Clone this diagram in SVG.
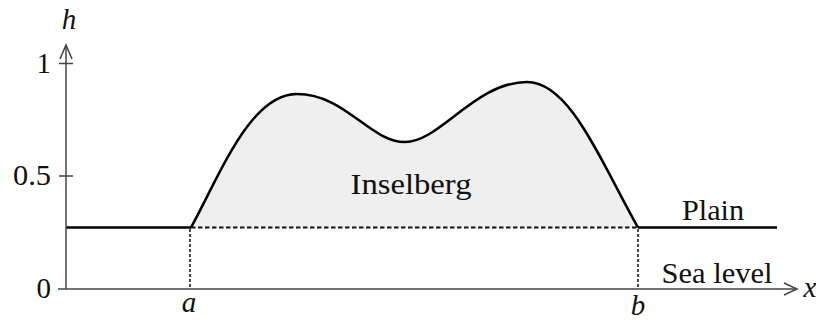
<svg xmlns="http://www.w3.org/2000/svg" width="816" height="320" viewBox="0 0 816 320">
<style>
.t{font-family:"Liberation Serif",serif;fill:#111;font-size:29px}
.i{font-style:italic}
.ax{stroke:#444;stroke-width:1.5;fill:none}
</style>
<rect width="816" height="320" fill="#fff"/>
<g id="hill">
<path d="M191,227.5 C220,175 250,94 297,94 C345,94 370,142 405,142 C440,142 475,82 527,82 C570,82 600,160 638,227.5 Z" fill="#efefef" stroke="none"/>
<path d="M191,227.5 C220,175 250,94 297,94 C345,94 370,142 405,142 C440,142 475,82 527,82 C570,82 600,160 638,227.5" fill="none" stroke="#000" stroke-width="2.5"/>
<text class="t" x="411" y="194" text-anchor="middle" textLength="121" lengthAdjust="spacingAndGlyphs">Inselberg</text>
</g>
<g id="connectors">
<line x1="191" y1="227.5" x2="638" y2="227.5" stroke="#111" stroke-width="2.2" stroke-dasharray="4.5,2.5"/>
<line x1="190" y1="229" x2="190" y2="289" stroke="#111" stroke-width="1.5" stroke-dasharray="3,2"/>
<line x1="638" y1="229" x2="638" y2="289" stroke="#111" stroke-width="1.5" stroke-dasharray="3,2"/>
</g>
<g id="plain">
<line x1="66" y1="227.5" x2="191" y2="227.5" stroke="#000" stroke-width="2.5"/>
<line x1="638" y1="227.5" x2="777" y2="227.5" stroke="#000" stroke-width="2.5"/>
<text class="t" x="713" y="220" text-anchor="middle" textLength="62" lengthAdjust="spacingAndGlyphs">Plain</text>
</g>
<g id="axes">
<line class="ax" x1="66" y1="289" x2="66" y2="46"/>
<line class="ax" x1="58" y1="289" x2="796" y2="289"/>
<polyline class="ax" points="60,59 66,45 72,59"/>
<polyline class="ax" points="784,283 797,289 784,295"/>
<line class="ax" x1="59" y1="63.5" x2="73" y2="63.5"/>
<line class="ax" x1="59" y1="176" x2="73" y2="176"/>
<text class="t" x="51" y="73" text-anchor="end">1</text>
<text class="t" x="51" y="185" text-anchor="end" textLength="38" lengthAdjust="spacingAndGlyphs">0.5</text>
<text class="t" x="51" y="298" text-anchor="end">0</text>
<text class="t i" x="69" y="29" text-anchor="middle">h</text>
<text class="t i" x="810" y="297" text-anchor="middle">x</text>
<text class="t i" x="189" y="312" text-anchor="middle">a</text>
<text class="t i" x="638" y="315" text-anchor="middle">b</text>
<text class="t" x="717" y="283" text-anchor="middle" textLength="111" lengthAdjust="spacingAndGlyphs">Sea level</text>
</g>
</svg>
